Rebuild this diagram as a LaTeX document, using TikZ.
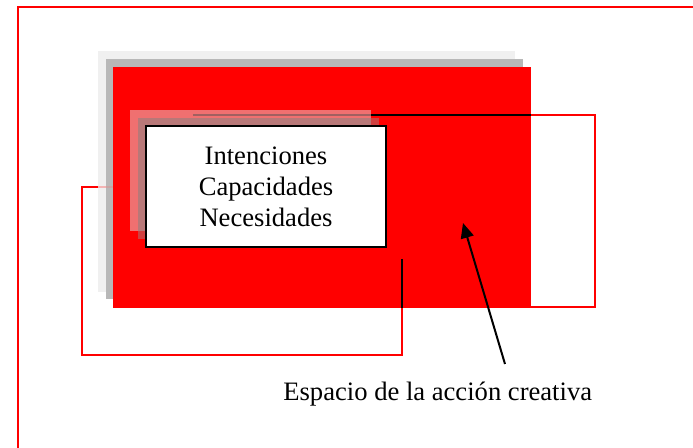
\documentclass[tikz,border=0pt]{standalone}
\usepackage{fontspec}
\setmainfont{Liberation Serif}
\usetikzlibrary{arrows.meta}
\definecolor{lgray}{HTML}{F0F0F0}
\definecolor{dgray}{HTML}{B8B8B8}
\definecolor{pinkbox}{HTML}{F07070}
\definecolor{midbox}{HTML}{B87878}
\definecolor{darkred}{HTML}{D04040}
\definecolor{lineonpink}{HTML}{A06060}
\tikzset{
  redline/.style={draw=red, line width=0.8pt},
  blackline/.style={draw=black, line width=1pt},
  txt/.style={font=\fontsize{13.3}{15.5}\selectfont},
}
\begin{document}
\begin{tikzpicture}[x=0.5pt,y=-0.5pt]
\useasboundingbox (0,0) rectangle (693,448);
% outer frame
\draw[draw=red, line width=1pt] (18,448) -- (18,7) -- (693,7);
% left outlined rectangle
\draw[redline] (113,187) -- (82,187) -- (82,355) -- (402,355) -- (402,308);
% shadows of the big area
\fill[lgray] (98,51) rectangle (515,292);
\fill[dgray] (106,59) rectangle (523,299);
\draw[draw={rgb,255:red,244;green,180;blue,180}, line width=0.8pt] (98,187) -- (106,187);
\draw[draw={rgb,255:red,200;green,165;blue,165}, line width=0.8pt] (106,187) -- (113,187);
% red area
\fill[red] (113,67) rectangle (531,308);
% right outlined rectangle
\draw[redline] (531,115) -- (595,115) -- (595,307) -- (531,307);
\draw[blackline] (193,115) -- (531,115);
\draw[blackline] (402,259) -- (402,308);
% inner shadows
\fill[pinkbox] (130,110) rectangle (371,231);
\draw[draw=lineonpink, line width=1pt] (193,115) -- (371,115);
\fill[darkred] (138,118) rectangle (379,239);
\fill[midbox] (138,118) rectangle (371,231);
% white box
\node[draw=black, line width=1pt, fill=white, minimum width=120pt, minimum height=60.5pt,
      inner sep=0pt, align=center, txt] (box) at (266,186.5)
      {Intenciones\\Capacidades\\Necesidades};
% label and arrow
\node[txt, anchor=base west, inner sep=0pt] (label) at (283,401) {Espacio de la acción creativa};
\coordinate (tail) at (505,364);
\coordinate (tip) at (463,223);
\draw[line width=1pt, -{Triangle[length=7.5pt,width=6.5pt]}] (tail) -- (tip);
\end{tikzpicture}
\end{document}
